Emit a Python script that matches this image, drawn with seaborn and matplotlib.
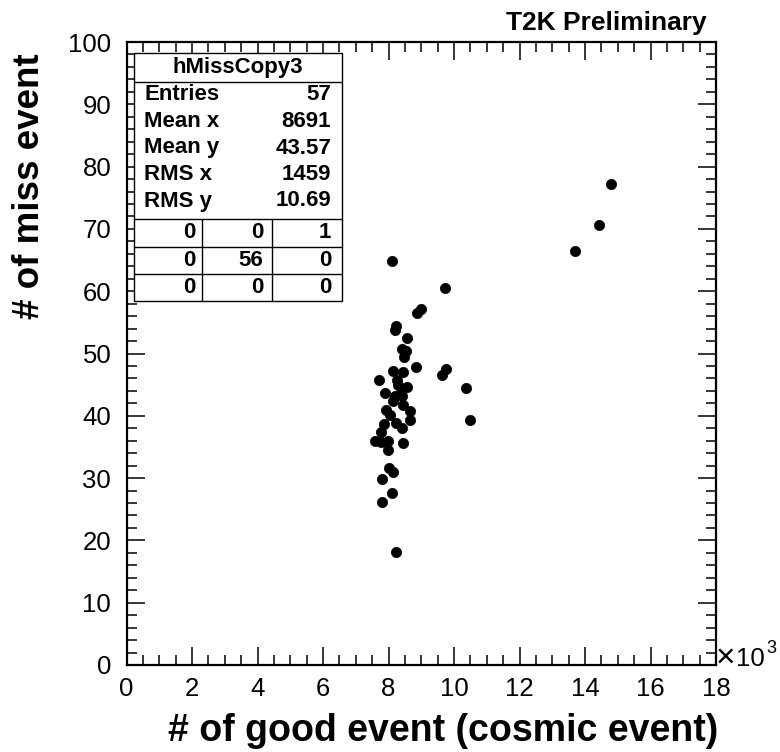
import matplotlib
matplotlib.use("Agg")
import matplotlib.pyplot as plt
import seaborn as sns
import pandas as pd
from matplotlib.lines import Line2D
from matplotlib.patches import Rectangle
from matplotlib.ticker import MultipleLocator

# ---- data (good events in units of 10^3, miss events) ----
good_events_k = [8.10, 9.73, 8.98, 8.86, 8.22, 8.19, 8.57, 8.40, 8.53, 8.47,
                 8.83, 9.76, 9.63, 8.15, 8.43, 7.71, 8.27, 8.28, 8.56, 10.36,
                 8.42, 7.88, 8.42, 8.20, 8.15, 8.45, 7.92, 8.66, 8.05, 8.66,
                 10.49, 8.23, 8.40, 7.86, 7.76, 7.59, 7.76, 7.98, 8.43, 7.98,
                 8.02, 8.15, 7.79, 8.10, 7.79, 8.22, 14.78, 14.44, 13.69]
miss_events = [64.9, 60.5, 57.2, 56.5, 54.4, 53.8, 52.5, 50.8, 50.4, 49.4,
               47.9, 47.5, 46.6, 47.2, 47.0, 45.8, 45.7, 44.9, 44.6, 44.4,
               44.1, 43.6, 43.2, 43.1, 42.4, 41.7, 40.9, 40.8, 40.1, 39.4,
               39.4, 38.9, 38.0, 38.7, 37.4, 36.0, 35.8, 36.0, 35.7, 34.5,
               31.6, 30.9, 29.9, 27.6, 26.1, 18.2, 77.2, 70.7, 66.5]

x_ticks = [0, 2, 4, 6, 8, 10, 12, 14, 16, 18]
y_ticks = [0, 10, 20, 30, 40, 50, 60, 70, 80, 90, 100]

stats_title = "hMissCopy3"
stats_labels = ["Entries", "Mean x", "Mean y", "RMS x", "RMS y"]
stats_values = ["57", "8691", "43.57", "1459", "10.69"]
overflow_grid = [["0", "0", "1"], ["0", "56", "0"], ["0", "0", "0"]]

df = pd.DataFrame({"good": good_events_k, "miss": miss_events})

sns.set_style("ticks")
plt.rcParams["font.family"] = ["Liberation Sans", "DejaVu Sans"]
for key in ["text.color", "axes.labelcolor", "xtick.color", "ytick.color",
            "axes.edgecolor"]:
    plt.rcParams[key] = "black"

W, H = 780, 752
fig = plt.figure(figsize=(W / 100, H / 100), dpi=100)
fig.patch.set_facecolor("white")

def fx(px):
    return px / W

def fy(py):
    return 1 - py / H

ax_l, ax_r, ax_t, ax_b = 126.5, 716, 42, 665
ax = fig.add_axes([fx(ax_l), fy(ax_b), fx(ax_r) - fx(ax_l), fy(ax_t) - fy(ax_b)])
ax.set_facecolor("white")

sns.scatterplot(data=df, x="good", y="miss", ax=ax, color="black",
                marker="o", s=55, edgecolor="black", linewidth=0.5, legend=False)

ax.set_xlim(0, 18)
ax.set_ylim(0, 100)
ax.set_xticks(x_ticks)
ax.set_xticklabels([str(t) for t in x_ticks])
ax.set_yticks(y_ticks)
ax.set_yticklabels([str(t) for t in y_ticks])
ax.xaxis.set_minor_locator(MultipleLocator(0.5))
ax.yaxis.set_minor_locator(MultipleLocator(2))
ax.tick_params(which="both", direction="in", top=True, right=True,
               width=1.1, color="black", labelcolor="black", labelsize=18.5)
ax.tick_params(which="major", length=13)
ax.tick_params(which="minor", length=7)
ax.tick_params(axis="x", which="major", pad=9)
ax.tick_params(axis="y", which="major", pad=11)
for sp in ax.spines.values():
    sp.set_visible(True)
    sp.set_linewidth(1.6)
    sp.set_color("black")

ax.set_xlabel("")
ax.set_ylabel("")
fig.text(fx(718), fy(749), "# of good event (cosmic event)", ha="right",
         va="bottom", fontsize=27, fontweight="bold")
fig.text(fx(12), fy(53), "# of miss event", ha="left", va="top",
         rotation=90, fontsize=26.5, fontweight="bold")
fig.text(fx(707), fy(30), "T2K Preliminary", ha="right", va="baseline",
         fontsize=19, fontweight="bold")
fig.text(fx(716), fy(667), "\u00d7", ha="left", va="baseline", fontsize=24)
fig.text(fx(736), fy(666), "10", ha="left", va="baseline", fontsize=18.5)
fig.text(fx(766), fy(653), "3", ha="left", va="baseline", fontsize=13)

# ---- stats box ----
bl, br, bt, bb = 134, 341.7, 53, 301
fig.add_artist(Rectangle((fx(bl), fy(bb)), fx(br) - fx(bl), fy(bt) - fy(bb),
                         transform=fig.transFigure, facecolor="white",
                         edgecolor="black", linewidth=1.0, zorder=5))

def hline(py, x0=bl, x1=br):
    fig.add_artist(Line2D([fx(x0), fx(x1)], [fy(py), fy(py)],
                          transform=fig.transFigure, color="black",
                          linewidth=1.0, zorder=6))

def vline(px, y0, y1):
    fig.add_artist(Line2D([fx(px), fx(px)], [fy(y0), fy(y1)],
                          transform=fig.transFigure, color="black",
                          linewidth=1.0, zorder=6))

hline(81.7)
hline(219.3)
hline(246.7)
hline(274)
vline(201.7, 219.3, bb)
vline(271.7, 219.3, bb)

fs = 16
fig.text(fx((bl + br) / 2), fy(67.5), stats_title, ha="center", va="center",
         fontsize=fs, fontweight="bold", zorder=7)
row_y = [95, 121.7, 148, 175, 201]
for yy, lab, val in zip(row_y, stats_labels, stats_values):
    fig.text(fx(144), fy(yy), lab, ha="left", va="center", fontsize=fs,
             fontweight="bold", zorder=7)
    fig.text(fx(331), fy(yy), val, ha="right", va="center", fontsize=fs,
             fontweight="bold", zorder=7)
grid_y = [233, 260.3, 287.5]
grid_x = [195, 263, 331]
for yy, row in zip(grid_y, overflow_grid):
    for xx, v in zip(grid_x, row):
        fig.text(fx(xx), fy(yy), v, ha="right", va="center", fontsize=fs,
                 fontweight="bold", zorder=7)

fig.savefig("out.png", dpi=100, facecolor="white")
